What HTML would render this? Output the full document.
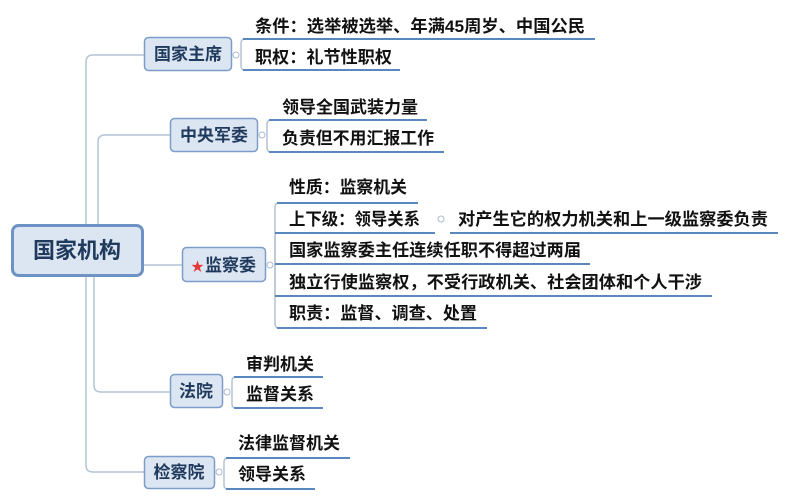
<!DOCTYPE html>
<html><head><meta charset="utf-8"><style>
html,body{margin:0;padding:0;background:#fff;}
svg{display:block;}
text{font-family:"Liberation Sans","Noto Sans CJK SC",sans-serif;font-weight:bold;}
.leaf{font-size:17px;fill:#111;}
.box{font-size:17px;fill:#1f3a5c;}
</style></head><body>
<svg width="788" height="500" viewBox="0 0 788 500" xmlns="http://www.w3.org/2000/svg">
<g fill="none" stroke="#b4c3d6" stroke-width="1.5">
<path d="M86 224 V62 Q86 55 93 55 H144"/>
<path d="M98 224 V142 Q98 135 105 135 H170"/>
<path d="M143 265 H182"/>
<path d="M94 276 V385 Q94 392 101 392 H170"/>
<path d="M86 276 V465 Q86 472 93 472 H144"/>
<!-- brackets -->
<path d="M245 39 Q241 39 241 43 V66 Q241 70 245 70"/>
<path d="M271 120 Q267 120 267 124 V148 Q267 152 271 152"/>
<path d="M279 203 Q275 203 275 207 V324 Q275 328 279 328"/>
<path d="M236 377 Q232 377 232 381 V404 Q232 408 236 408"/>
<path d="M228 458 Q224 458 224 462 V485 Q224 489 228 489"/>
<path d="M275 233 V296 M275 264 H280"/>
</g>
<g fill="#fff" stroke="#aabbd0" stroke-width="1">
<circle cx="236" cy="55" r="3"/><circle cx="262" cy="135" r="3"/><circle cx="270" cy="265" r="3"/>
<circle cx="227" cy="392" r="3"/><circle cx="219" cy="472" r="3"/><circle cx="441" cy="219" r="3"/>
</g>
<g stroke="#5b87bf" stroke-width="2">
<path d="M243 39 H595"/><path d="M243 70 H400"/>
<path d="M269 120 H427"/><path d="M269 152 H444"/>
<path d="M277 203 H418"/><path d="M275 233 H435"/><path d="M450 233 H778"/>
<path d="M275 264 H590"/><path d="M275 296 H712"/><path d="M277 328 H487"/>
<path d="M234 377 H323"/><path d="M234 408 H323"/>
<path d="M226 458 H350"/><path d="M226 489 H315"/>
</g>
<!-- boxes -->
<rect x="12.5" y="225.5" width="130" height="50" rx="6" fill="#dce6f2" stroke="#6d93c4" stroke-width="3"/>
<text x="77" y="258" text-anchor="middle" style="font-size:22px;fill:#1f3a5c">国家机构</text>
<g fill="#dce6f2" stroke="#7c9dc9" stroke-width="1.5">
<rect x="144.5" y="37.5" width="87" height="33" rx="4"/>
<rect x="170.5" y="118.5" width="87" height="33" rx="4"/>
<rect x="182.5" y="247.5" width="83" height="34" rx="4"/>
<rect x="170.5" y="374.5" width="52" height="33" rx="4"/>
<rect x="144.5" y="456.5" width="70" height="32" rx="4"/>
</g>
<text class="box" x="188" y="60" text-anchor="middle">国家主席</text>
<text class="box" x="214" y="141" text-anchor="middle">中央军委</text>
<text x="191" y="271" style="font-size:13px;fill:#e23a3a">★</text>
<text class="box" x="205" y="271">监察委</text>
<text class="box" x="196" y="397" text-anchor="middle">法院</text>
<text class="box" x="179" y="478" text-anchor="middle">检察院</text>
<!-- leaves -->
<text class="leaf" x="255" y="32" textLength="330" lengthAdjust="spacingAndGlyphs">条件：选举被选举、年满45周岁、中国公民</text>
<text class="leaf" x="255" y="63" textLength="137" lengthAdjust="spacingAndGlyphs">职权：礼节性职权</text>
<text class="leaf" x="282" y="113" textLength="136" lengthAdjust="spacingAndGlyphs">领导全国武装力量</text>
<text class="leaf" x="282" y="144" textLength="152" lengthAdjust="spacingAndGlyphs">负责但不用汇报工作</text>
<text class="leaf" x="289" y="193" textLength="118" lengthAdjust="spacingAndGlyphs">性质：监察机关</text>
<text class="leaf" x="289" y="225" textLength="131" lengthAdjust="spacingAndGlyphs">上下级：领导关系</text>
<text class="leaf" x="458" y="225" textLength="310" lengthAdjust="spacingAndGlyphs">对产生它的权力机关和上一级监察委负责</text>
<text class="leaf" x="289" y="256" textLength="292" lengthAdjust="spacingAndGlyphs">国家监察委主任连续任职不得超过两届</text>
<text class="leaf" x="289" y="288" textLength="413" lengthAdjust="spacingAndGlyphs">独立行使监察权，不受行政机关、社会团体和个人干涉</text>
<text class="leaf" x="289" y="319" textLength="188" lengthAdjust="spacingAndGlyphs">职责：监督、调查、处置</text>
<text class="leaf" x="246" y="370" textLength="68" lengthAdjust="spacingAndGlyphs">审判机关</text>
<text class="leaf" x="246" y="400" textLength="68" lengthAdjust="spacingAndGlyphs">监督关系</text>
<text class="leaf" x="238" y="449" textLength="102" lengthAdjust="spacingAndGlyphs">法律监督机关</text>
<text class="leaf" x="238" y="480" textLength="68" lengthAdjust="spacingAndGlyphs">领导关系</text>
</svg>
</body></html>
